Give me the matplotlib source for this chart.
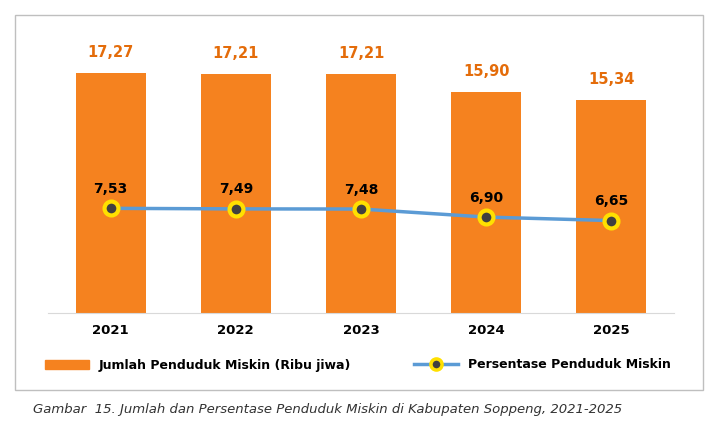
import matplotlib
matplotlib.use('Agg')
import matplotlib.pyplot as plt
from matplotlib.patches import Rectangle
from matplotlib.lines import Line2D

# Data
years = ['2021', '2022', '2023', '2024', '2025']
jumlah = [17.27, 17.21, 17.21, 15.90, 15.34]
persen = [7.53, 7.49, 7.48, 6.90, 6.65]

def fmt(v):
    return f'{v:.2f}'.replace('.', ',')

orange = '#F5821F'
blue = '#5B9BD5'

fig = plt.figure(figsize=(7.16, 4.24), dpi=100)
fig.patches.append(Rectangle((15/716, 1-390/424), 688/716, 375/424, transform=fig.transFigure,
                             fill=False, edgecolor='#BFBFBF', linewidth=1))
ax = fig.add_axes([48/716, 1-313/424, 626/716, 278/424])
x = range(len(years))
ax.bar(x, jumlah, width=0.56, color=orange)
ax.plot(x, persen, color=blue, linewidth=2.5, marker='o', markersize=10,
        markerfacecolor='#404040', markeredgecolor='#FFE000', markeredgewidth=3)
for i in x:
    ax.text(i, jumlah[i] + 0.9, fmt(jumlah[i]), ha='center', va='bottom',
            color='#E46C0A', fontweight='bold', fontsize=10.5)
    ax.text(i, persen[i] + 0.9, fmt(persen[i]), ha='center', va='bottom',
            color='black', fontweight='bold', fontsize=10)
ax.set_xlim(-0.5, 4.5)
ax.set_ylim(0, 20)
ax.set_yticks([])
ax.set_xticks(list(x), years, fontweight='bold', fontsize=9.5)
ax.tick_params(axis='x', length=0, pad=8)
for s in ['left', 'right', 'top']:
    ax.spines[s].set_visible(False)
ax.spines['bottom'].set_color('#D9D9D9')

handles = [Rectangle((0, 0), 1, 1, color=orange),
           Line2D([0], [0], color=blue, linewidth=2.5, marker='o', markersize=8,
                  markerfacecolor='#404040', markeredgecolor='#FFE000', markeredgewidth=2.5)]
fig.legend(handles, ['Jumlah Penduduk Miskin (Ribu jiwa)', 'Persentase Penduduk Miskin'],
           loc='center', bbox_to_anchor=(0.5, 1-365/424), ncol=2, frameon=False,
           prop={'weight': 'bold', 'size': 9}, columnspacing=5, handlelength=3.5)
fig.text(33/716, 1-409/424,
         'Gambar  15. Jumlah dan Persentase Penduduk Miskin di Kabupaten Soppeng, 2021-2025',
         fontstyle='italic', fontsize=9.5, color='#333333', va='center')
plt.savefig('out.png', dpi=100)
